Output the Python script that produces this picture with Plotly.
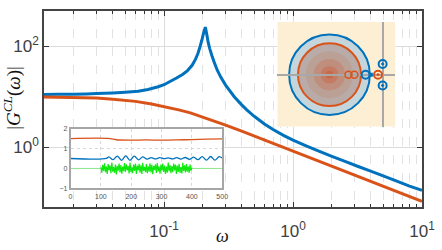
import plotly.graph_objects as go

# ---------------- main closed-loop magnitude data ----------------
omega_blue = [0.0117, 0.015, 0.02, 0.025, 0.03, 0.04, 0.05, 0.063, 0.075, 0.09, 0.1, 0.113,
              0.125, 0.14, 0.152, 0.165, 0.175, 0.183, 0.19, 0.196, 0.201, 0.205, 0.209,
              0.212, 0.216, 0.22, 0.226, 0.235, 0.245, 0.258, 0.275, 0.3, 0.35, 0.4,
              0.438, 0.5, 0.6, 0.7, 0.85, 1.0, 1.25, 1.55, 2.0, 2.5, 3.2, 4.0, 5.0, 6.3, 8.0, 10.0]
mag_blue = [11.1, 11.15, 11.25, 11.4, 11.55, 11.9, 12.3, 12.9, 13.9, 15.8, 17.3, 20.5,
            23.5, 28, 33, 42, 55, 72, 98, 130, 170, 205, 240,
            200, 155, 118, 90, 65, 48, 34, 24.5, 17, 10, 6.9,
            5.5, 4.1, 2.9, 2.25, 1.7, 1.38, 1.08, 0.86, 0.66, 0.53, 0.415, 0.335, 0.27, 0.215, 0.17, 0.14]

omega_orange = [0.0117, 0.015, 0.02, 0.025, 0.03, 0.04, 0.05, 0.06, 0.08, 0.1, 0.13, 0.16, 0.2,
                0.25, 0.3, 0.4, 0.5, 0.7, 1.0, 1.5, 2.0, 3.0, 5.0, 7.0, 10.0]
mag_orange = [9.9, 9.85, 9.7, 9.6, 9.4, 8.9, 8.5, 8.1, 7.2, 6.4, 5.5, 4.8, 3.95,
              3.25, 2.75, 2.08, 1.67, 1.19, 0.83, 0.56, 0.42, 0.28, 0.17, 0.121, 0.085]

x_tick_vals = [0.1, 1, 10]
x_tick_text = ["10<sup>-1</sup>", "10<sup>0</sup>", "10<sup>1</sup>"]
y_tick_vals = [1, 100]
y_tick_text = ["10<sup>0</sup>", "10<sup>2</sup>"]
minor_digits = [2, 3, 4, 5, 6, 7, 8, 9]
minor_decades = [0.01, 0.1, 1]

# ---------------- inset time response data ----------------
t_orange = [0, 130, 150, 200, 250, 300, 350, 400, 450, 500]
y_orange = [1.5, 1.5, 1.44, 1.42, 1.43, 1.42, 1.43, 1.45, 1.47, 1.48]

t_blue = [0, 118, 126, 140, 154, 168, 182, 196, 210, 224, 238, 252, 266, 280, 294, 308, 322,
          336, 350, 364, 378, 392, 406, 420, 434, 448, 462, 476, 490, 500]
y_blue = [0.5, 0.5, 0.58, 0.44, 0.62, 0.41, 0.63, 0.41, 0.62, 0.43, 0.58, 0.47, 0.54, 0.48,
          0.54, 0.49, 0.53, 0.48, 0.54, 0.47, 0.55, 0.46, 0.57, 0.44, 0.59, 0.42, 0.6, 0.42, 0.59, 0.52]

t_base = [0, 500]
y_base = [0, 0]

y_noise = [0.05, -0.21, 0.18, -0.12, 0.26, -0.19, 0.1, -0.27, 0.22, -0.08, 0.15, -0.24, 0.29,
           -0.16, 0.07, -0.22, 0.2, -0.3, 0.13, -0.11, 0.24, -0.2, 0.17, -0.26, 0.09, -0.14,
           0.27, -0.18, 0.21, -0.09, 0.12, -0.25, 0.3, -0.17, 0.06, -0.23, 0.19, -0.13, 0.25,
           -0.28, 0.14, -0.1, 0.23, -0.21, 0.16, -0.27, 0.28, -0.12, 0.08, -0.19, 0.22, -0.24,
           0.11, -0.16, 0.26, -0.2, 0.18, -0.29, 0.13, -0.07, 0.21, -0.23, 0.27, -0.15, 0.1,
           -0.26, 0.2, -0.11, 0.24, -0.18, 0.15, -0.28, 0.09, -0.21, 0.29, -0.14, 0.17, -0.24,
           0.12, -0.19, 0.25, -0.1, 0.2, -0.27, 0.14, -0.17, 0.23, -0.22, 0.07, -0.25, 0.28,
           -0.13, 0.16, -0.2, 0.22, -0.16, 0.11, -0.23, 0.19, -0.12, 0.04]
t_noise_start, t_noise_end = 100, 400

# ---------------- pole-zero inset data ----------------
pz_x_range = [-10.7, 1.3]
pz_y_range = [-5.3, 5.4]
disk_center = -5.4
r_outer = 4.1
r_inner = 3.2
annulus_color = "#C4D6DC"
shade_radii = [3.15, 2.4, 1.6, 0.9, 0.4]
shade_colors = ["#B9ABA8", "#BBA096", "#BF8E7D", "#C57B63", "#C86A4A"]
orange_open_x = [-3.47, -2.87]
blue_open_x = [-1.73]
blue_square_x = [-1.2]
orange_dot_x = [-0.47]
blue_dot_x = [0, 0]
blue_dot_y = [1.1, -1.1]

BLUE = "#0072BD"
ORANGE = "#D95319"

fig = go.Figure()

fig.add_trace(go.Scatter(x=omega_blue, y=mag_blue, mode="lines",
                         line=dict(color=BLUE, width=3, simplify=False), xaxis="x", yaxis="y"))
fig.add_trace(go.Scatter(x=omega_orange, y=mag_orange, mode="lines",
                         line=dict(color=ORANGE, width=3), xaxis="x", yaxis="y"))

# inset time response
fig.add_trace(go.Scatter(x=t_base, y=y_base, mode="lines",
                         line=dict(color="#8FE88F", width=1), xaxis="x2", yaxis="y2"))
n = len(y_noise)
t_noise = [t_noise_start + (t_noise_end - t_noise_start) * i / (n - 1) for i in range(n)]
fig.add_trace(go.Scatter(x=t_noise, y=y_noise, mode="lines",
                         line=dict(color="#10E810", width=1.2, simplify=False), xaxis="x2", yaxis="y2"))
fig.add_trace(go.Scatter(x=t_orange, y=y_orange, mode="lines", line_shape="spline",
                         line=dict(color=ORANGE, width=1.3), xaxis="x2", yaxis="y2"))
fig.add_trace(go.Scatter(x=t_blue, y=y_blue, mode="lines", line_shape="spline",
                         line=dict(color=BLUE, width=1.3), xaxis="x2", yaxis="y2"))

# pole-zero markers
fig.add_trace(go.Scatter(x=orange_open_x, y=[0] * len(orange_open_x), mode="markers",
                         marker=dict(symbol="circle-open", size=7, color=ORANGE, line=dict(width=1.5)),
                         xaxis="x3", yaxis="y3"))
fig.add_trace(go.Scatter(x=blue_open_x, y=[0], mode="markers",
                         marker=dict(symbol="circle-open", size=8, color=BLUE, line=dict(width=2)),
                         xaxis="x3", yaxis="y3"))
fig.add_trace(go.Scatter(x=blue_square_x, y=[0], mode="markers",
                         marker=dict(symbol="square", size=4, color=BLUE),
                         xaxis="x3", yaxis="y3"))
fig.add_trace(go.Scatter(x=orange_dot_x, y=[0], mode="markers",
                         marker=dict(symbol="circle-open-dot", size=8, color=ORANGE, line=dict(width=2)),
                         xaxis="x3", yaxis="y3"))
fig.add_trace(go.Scatter(x=blue_dot_x, y=blue_dot_y, mode="markers",
                         marker=dict(symbol="circle-open-dot", size=8, color=BLUE, line=dict(width=2)),
                         xaxis="x3", yaxis="y3"))

shapes = []
shapes.append(dict(type="rect", xref="x3", yref="y3", layer="below",
                   x0=pz_x_range[0], x1=pz_x_range[1], y0=pz_y_range[0], y1=pz_y_range[1],
                   fillcolor="#FDEFD3", line=dict(width=0)))
shapes.append(dict(type="circle", xref="x3", yref="y3", layer="below",
                   x0=disk_center - r_outer, x1=disk_center + r_outer, y0=-r_outer, y1=r_outer,
                   fillcolor=annulus_color, line=dict(color=BLUE, width=2)))
shapes.append(dict(type="circle", xref="x3", yref="y3", layer="below",
                   x0=disk_center - r_inner, x1=disk_center + r_inner, y0=-r_inner, y1=r_inner,
                   fillcolor=shade_colors[0], line=dict(color=ORANGE, width=2)))
for r, c in zip(shade_radii[1:], shade_colors[1:]):
    shapes.append(dict(type="circle", xref="x3", yref="y3", layer="below",
                       x0=disk_center - r, x1=disk_center + r, y0=-r, y1=r,
                       fillcolor=c, line=dict(width=0)))

minor_x = [d * m for m in minor_decades for d in minor_digits]

TICKFONT = dict(family="Liberation Sans, Arial", size=17, color="#404040")

fig.update_layout(
    width=442, height=250,
    margin=dict(l=44, r=14, t=7, b=43),
    paper_bgcolor="white", plot_bgcolor="white",
    showlegend=False,
    shapes=shapes,
    xaxis=dict(type="log", range=[-1.931, 1.0], domain=[0, 1],
               tickmode="array", tickvals=x_tick_vals, ticktext=x_tick_text,
               tickfont=TICKFONT, ticks="inside", ticklen=5, tickcolor="#333",
               ticklabelstandoff=8,
               showline=True, linecolor="#444", linewidth=1.5, mirror="ticks",
               showgrid=True, gridcolor="#DCDCDC", gridwidth=1, zeroline=False,
               minor=dict(tickmode="array", tickvals=minor_x, ticks="inside", ticklen=3,
                          tickcolor="#333", showgrid=True, gridcolor="#E2E2E2",
                          griddash="dash", gridwidth=1)),
    yaxis=dict(type="log", range=[-1.184, 2.699], domain=[0, 1],
               tickmode="array", tickvals=y_tick_vals, ticktext=y_tick_text,
               tickfont=TICKFONT, ticks="inside", ticklen=5, tickcolor="#333",
               showline=True, linecolor="#444", linewidth=1.5, mirror="ticks",
               showgrid=True, gridcolor="#DCDCDC", gridwidth=1, zeroline=False),
    xaxis2=dict(domain=[0.0703, 0.4714], range=[0, 500], anchor="y2",
                tickmode="array", tickvals=[0, 100, 200, 300, 400, 500],
                tickfont=dict(family="Liberation Sans, Arial", size=7, color="#555"),
                ticks="", showline=True, linecolor="#A6A6A6", linewidth=1.5, mirror=True,
                showgrid=True, gridcolor="#D8D8D8", griddash="dot", zeroline=False),
    yaxis2=dict(domain=[0.095, 0.40], range=[-1, 2], anchor="x2",
                tickmode="array", tickvals=[-1, 0, 1, 2],
                tickfont=dict(family="Liberation Sans, Arial", size=7, color="#555"),
                ticks="", showline=True, linecolor="#A6A6A6", linewidth=1.5, mirror=True,
                showgrid=True, gridcolor="#D8D8D8", griddash="dot", zeroline=False),
    xaxis3=dict(domain=[0.6172, 0.9297], range=pz_x_range, anchor="y3",
                showticklabels=False, ticks="", showgrid=False, showline=False,
                zeroline=True, zerolinecolor="#A8A8A8", zerolinewidth=1.5),
    yaxis3=dict(domain=[0.41, 0.945], range=pz_y_range, anchor="x3",
                showticklabels=False, ticks="", showgrid=False, showline=False,
                zeroline=True, zerolinecolor="#A8A8A8", zerolinewidth=1.5),
    annotations=[
        dict(text="<i>ω</i>", xref="paper", yref="paper", x=0.471, y=-0.15,
             showarrow=False, font=dict(family="Liberation Serif, DejaVu Serif", size=18, color="#111"),
             xanchor="center", yanchor="middle"),
        dict(text="|<i>G</i><sup><i>CL</i></sup>(<i>ω</i>)|", xref="paper", yref="paper",
             x=-0.083, y=0.555, textangle=-90, showarrow=False,
             font=dict(family="Liberation Serif, DejaVu Serif", size=19, color="#111"),
             xanchor="center", yanchor="middle"),
    ],
)

fig.write_html("out.html", config={"displayModeBar": False},
               post_script="document.body.style.margin='0';")
